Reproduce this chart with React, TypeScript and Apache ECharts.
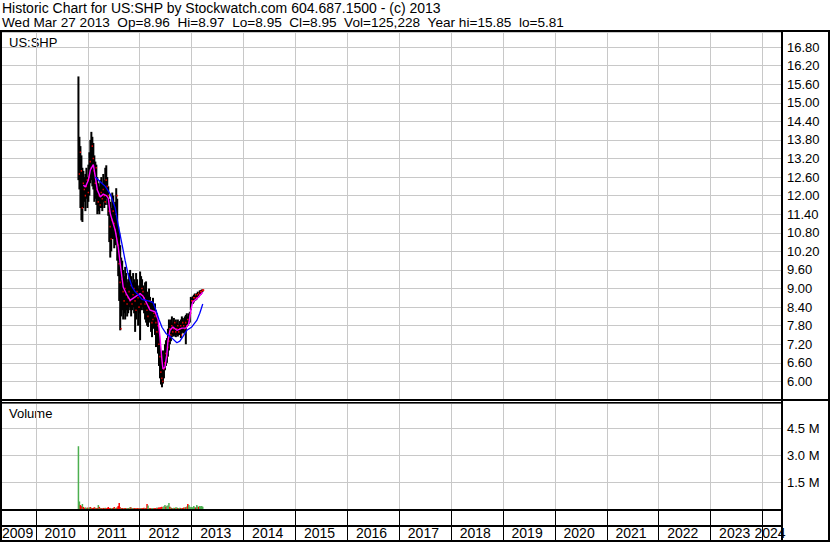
import React, { useEffect, useRef } from "react";
import * as echarts from "echarts";

const TITLE_LINE1 = "Historic Chart for US:SHP by Stockwatch.com 604.687.1500 - (c) 2013";
const TITLE_LINE2 =
  "Wed Mar 27 2013 \u00a0Op=8.96 \u00a0Hi=8.97 \u00a0Lo=8.95 \u00a0Cl=8.95 \u00a0Vol=125,228 \u00a0Year hi=15.85 \u00a0lo=5.81";
const SYMBOL_LABEL = "US:SHP";
const VOLUME_LABEL = "Volume";

// weekly bars, first week starting 2010-10-27
const FIRST_WEEK = [2010, 9, 27];

const high = [
  15.85, 13.9, 13.6, 13.3, 12.9, 12.8, 12.6, 12.7, 12.9, 12.6,
  13.0, 13.4, 13.8, 14.06, 13.9, 13.7, 13.3, 13.1, 13.0, 12.6,
  12.4, 12.3, 12.5, 12.6, 12.4, 12.7, 12.5, 12.9, 12.98, 12.6,
  12.3, 11.9, 11.8, 11.6, 12.1, 12.0, 11.7, 11.8, 12.24, 11.9,
  11.0, 10.8, 10.4, 10.0, 9.9, 9.6, 9.4, 9.7, 9.5, 9.2,
  9.3, 9.5, 9.6, 9.4, 9.2, 9.5, 9.3, 9.2, 9.5, 9.3,
  9.0, 9.1, 9.55, 9.4, 9.3, 9.1, 9.0, 9.2, 9.23, 8.9,
  8.8, 9.0, 8.73, 8.6, 8.5, 8.7, 8.5, 8.52, 8.3, 8.2,
  7.9, 7.55, 7.3, 6.9, 6.6, 7.0, 6.8, 7.2, 7.33, 7.4,
  7.7, 8.0, 7.9, 8.0, 8.1, 7.9, 8.05, 7.95, 8.0, 7.9,
  8.0, 7.85, 7.95, 8.0, 8.1, 8.05, 8.0, 8.1, 8.15, 8.2,
  8.1, 8.2, 8.25, 8.73, 8.7, 8.75, 8.8, 8.84, 8.8, 8.85,
  8.9, 8.88, 8.94, 8.95, 8.97, 8.97,
];
const low = [
  12.5, 12.2, 11.6, 11.2, 11.15, 11.6, 11.8, 11.5, 11.9, 11.6,
  11.8, 12.0, 12.4, 12.5, 12.3, 12.2, 11.8, 11.9, 11.7, 11.4,
  11.5, 11.4, 11.6, 11.6, 11.5, 11.8, 11.6, 11.7, 11.9, 11.7,
  11.35, 10.5, 10.0, 10.2, 10.6, 10.6, 10.3, 10.4, 10.8, 9.9,
  9.4, 8.6, 7.65, 8.1, 8.3, 8.0, 8.2, 8.0, 8.3, 8.1,
  8.2, 8.4, 8.3, 8.1, 8.3, 8.4, 8.2, 7.6, 8.0, 8.3,
  7.8, 8.2, 7.33, 8.3, 8.4, 8.3, 8.2, 8.0, 7.9, 7.8,
  7.76, 8.0, 7.9, 7.6, 7.43, 7.7, 7.8, 7.5, 7.11, 7.3,
  6.9, 6.5, 6.1, 5.9, 5.81, 5.93, 6.1, 6.36, 6.5, 6.6,
  6.8, 7.0, 7.2, 7.3, 7.43, 7.5, 7.45, 7.5, 7.43, 7.5,
  7.45, 7.5, 7.5, 7.4, 7.55, 7.6, 7.55, 7.6, 7.2, 7.76,
  7.8, 7.85, 7.9, 8.3, 8.5, 8.5, 8.55, 8.6, 8.62, 8.65,
  8.7, 8.72, 8.78, 8.8, 8.85, 8.9,
];
const close = [
  12.7, 13.4, 12.8, 11.6, 12.4, 12.2, 12.0, 12.3, 12.5, 12.1,
  12.6, 13.1, 12.9, 13.6, 13.2, 12.8, 12.4, 12.9, 12.2, 11.8,
  12.0, 11.7, 12.1, 11.9, 12.2, 12.0, 11.8, 12.5, 12.3, 12.0,
  11.5, 11.0, 10.6, 11.2, 11.5, 11.1, 10.9, 11.4, 12.0, 10.4,
  9.8, 9.2, 7.7, 9.3, 8.9, 8.6, 9.0, 8.8, 8.5, 8.7,
  8.9, 8.6, 9.1, 8.5, 8.8, 9.0, 8.6, 8.3, 8.9, 8.7,
  8.4, 8.8, 8.5, 9.0, 8.9, 8.7, 8.5, 8.6, 8.3, 8.1,
  8.4, 8.6, 8.3, 7.9, 8.0, 8.2, 8.1, 7.9, 7.6, 7.8,
  7.2, 6.8, 6.3, 6.1, 6.0, 6.4, 6.6, 6.9, 6.8, 7.1,
  7.3, 7.7, 7.5, 7.8, 7.6, 7.7, 7.9, 7.6, 7.7, 7.8,
  7.6, 7.7, 7.8, 7.5, 7.9, 7.8, 7.7, 7.9, 7.8, 8.0,
  7.9, 8.1, 8.2, 8.6, 8.6, 8.7, 8.7, 8.8, 8.7, 8.8,
  8.85, 8.8, 8.9, 8.9, 8.95, 8.95,
];
// weekly volume, thousands of shares
const volumeK = [
  3500, 420, 220, 160, 280, 110, 60, 90, 50, 80,
  60, 90, 110, 70, 50, 60, 100, 70, 40, 60,
  220, 120, 60, 50, 40, 60, 50, 70, 40, 60,
  110, 50, 60, 40, 50, 60, 110, 60, 70, 90,
  170, 330, 100, 60, 50, 40, 60, 50, 40, 60,
  50, 40, 110, 80, 50, 40, 60, 50, 40, 50,
  60, 40, 50, 60, 40, 50, 70, 60, 50, 280,
  200, 60, 50, 40, 60, 50, 40, 60, 50, 80,
  60, 100, 70, 110, 120, 90, 160, 220, 130, 180,
  200, 330, 120, 90, 60, 50, 70, 60, 100, 80,
  60, 50, 70, 60, 50, 60, 90, 80, 100, 140,
  280, 220, 120, 100, 110, 90, 170, 100, 80, 220,
  140, 120, 170, 150, 170, 125,
];
// short moving average (magenta), read at selected weeks
const magentaWeek = [5, 7, 10, 12, 15, 17, 19, 22, 25, 28, 30, 32, 35, 37, 40, 42, 45, 48, 52, 57, 62, 65, 69, 72, 77, 80, 82, 84, 85, 87, 89, 90, 92, 95, 99, 104, 108, 111, 113, 115, 120, 125];
const magentaVal = [12.34, 12.28, 12.5, 12.83, 13.0, 12.6, 12.18, 11.96, 12.05, 12.0, 11.92, 11.42, 11.1, 10.88, 10.34, 9.8, 9.05, 8.84, 8.62, 8.73, 8.84, 8.75, 8.5, 8.3, 8.25, 8.0, 7.43, 6.68, 6.4, 6.46, 6.9, 7.3, 7.65, 7.76, 7.65, 7.72, 7.72, 7.87, 8.3, 8.57, 8.7, 8.88];
// long moving average (blue)
const blueWeek = [17, 22, 27, 32, 37, 40, 44, 47, 50, 54, 57, 60, 64, 70, 75, 78, 81, 84, 88, 93, 99, 102, 105, 109, 114, 119, 122, 125];
const blueVal = [12.6, 12.45, 12.3, 12.05, 11.6, 11.05, 10.4, 9.9, 9.45, 9.05, 8.9, 8.8, 8.65, 8.6, 8.55, 8.3, 8.0, 7.75, 7.55, 7.43, 7.25, 7.3, 7.45, 7.65, 7.76, 7.97, 8.2, 8.5];

const GRID_YEARS = [2010, 2011, 2012, 2013, 2014, 2015, 2016, 2017, 2018, 2019, 2020, 2021, 2022, 2023, 2024];
const LABEL_YEARS = [2009, 2010, 2011, 2012, 2013, 2014, 2015, 2016, 2017, 2018, 2019, 2020, 2021, 2022, 2023, 2024];
const X_START = [2009, 3, 30];
const X_END = [2024, 4, 18];

const FONT = "Arial, 'Liberation Sans', sans-serif";
const GRID_GRAY = "#c8c8c8";

const DAY = 86400000;
const weekTime = (i: number) => Date.UTC(FIRST_WEEK[0], FIRST_WEEK[1], FIRST_WEEK[2]) + i * 7 * DAY;
const labelPos = (y: number) => {
  if (y === LABEL_YEARS[0]) return Date.UTC(y, 7, 25);
  if (y === LABEL_YEARS[LABEL_YEARS.length - 1]) return Date.UTC(y, 1, 24);
  return Date.UTC(y, 5, 20);
};

export default function App() {
  const ref = useRef<HTMLDivElement>(null);
  useEffect(() => {
    document.body.style.margin = "0";
    if (!ref.current) return;
    const chart = echarts.init(ref.current, undefined, { renderer: "svg" });

    const xMin = Date.UTC(X_START[0], X_START[1], X_START[2]);
    const xMax = Date.UTC(X_END[0], X_END[1], X_END[2]);
    const yearTicks = GRID_YEARS.map((y) => Date.UTC(y, 0, 1));

    const makeX = (gridIndex: number, lineColor: string, withLabels: boolean) => ({
      type: "value",
      gridIndex,
      min: xMin,
      max: xMax,
      axisLine: { show: false },
      axisTick: { show: false, customValues: yearTicks },
      splitLine: { show: true, lineStyle: { color: lineColor, width: 1 } },
      axisLabel: withLabels
        ? {
            show: true,
            inside: true,
            margin: 0,
            customValues: LABEL_YEARS.map(labelPos),
            formatter: (v: number) => String(new Date(v).getUTCFullYear()),
            color: "#000",
            fontSize: 14,
            fontFamily: FONT,
          }
        : { show: false },
    });

    const priceData = high.map((h, i) => [weekTime(i), h, low[i], close[i]]);
    const closeData = close.map((c, i) => [weekTime(i), c]);
    const volData = volumeK.map((v, i) => [weekTime(i), v * 1000, i === 0 || close[i] >= close[i - 1] ? 1 : 0]);

    const option: any = {
      animation: false,
      backgroundColor: "#fff",
      grid: [
        { left: 1, right: 48, top: 32, height: 368, containLabel: false, outerBoundsMode: "none" },
        { left: 1, right: 48, top: 403, height: 106, containLabel: false, outerBoundsMode: "none" },
        { left: 1, right: 48, top: 511, height: 14, containLabel: false, outerBoundsMode: "none" },
        { left: 1, right: 48, top: 527, height: 13, containLabel: false, outerBoundsMode: "none" },
      ],
      xAxis: [
        makeX(0, GRID_GRAY, false),
        makeX(1, GRID_GRAY, false),
        makeX(2, "#000", false),
        makeX(3, "#000", true),
      ],
      yAxis: [
        {
          type: "value",
          gridIndex: 0,
          position: "right",
          min: 5.4,
          max: 17.285,
          interval: 0.6,
          axisLine: { show: false },
          axisTick: { show: false },
          splitLine: { show: true, lineStyle: { color: GRID_GRAY, width: 1 } },
          axisLabel: {
            showMinLabel: false,
            showMaxLabel: false,
            margin: 5,
            formatter: (v: number) => v.toFixed(2),
            color: "#000",
            fontSize: 13,
            fontFamily: FONT,
          },
        },
        {
          type: "value",
          gridIndex: 1,
          position: "right",
          min: 0,
          max: 5910000,
          interval: 1500000,
          axisLine: { show: false },
          axisTick: { show: false },
          splitLine: { show: true, lineStyle: { color: GRID_GRAY, width: 1 } },
          axisLabel: {
            showMinLabel: false,
            showMaxLabel: false,
            margin: 5,
            formatter: (v: number) => (v / 1000000).toFixed(1) + " M",
            color: "#000",
            fontSize: 13,
            fontFamily: FONT,
          },
        },
        { type: "value", gridIndex: 2, show: false, min: 0, max: 1 },
        { type: "value", gridIndex: 3, show: false, min: 0, max: 1 },
      ],
      series: [
        {
          type: "custom",
          xAxisIndex: 0,
          yAxisIndex: 0,
          data: priceData,
          encode: { x: 0, y: [1, 2, 3] },
          z: 2,
          renderItem: (params: any, api: any) => {
            const t = api.value(0);
            const hi = api.coord([t, api.value(1)]);
            const lo = api.coord([t, api.value(2)]);
            return {
              type: "rect",
              shape: { x: hi[0] - 1, y: hi[1], width: 2, height: Math.max(1, lo[1] - hi[1]) },
              style: { fill: "#000" },
            };
          },
        },
        {
          type: "custom",
          xAxisIndex: 0,
          yAxisIndex: 0,
          data: closeData,
          encode: { x: 0, y: 1 },
          z: 3,
          renderItem: (params: any, api: any) => {
            const c = api.coord([api.value(0), api.value(1)]);
            return {
              type: "rect",
              shape: { x: c[0] + 0.3, y: c[1] - 0.8, width: 1.2, height: 1.6 },
              style: { fill: "#ff0000" },
            };
          },
        },
        {
          type: "line",
          xAxisIndex: 0,
          yAxisIndex: 0,
          data: magentaWeek.map((w, k) => [weekTime(w), magentaVal[k]]),
          showSymbol: false,
          lineStyle: { color: "#ff00ff", width: 1.4 },
          z: 5,
        },
        {
          type: "line",
          xAxisIndex: 0,
          yAxisIndex: 0,
          data: blueWeek.map((w, k) => [weekTime(w), blueVal[k]]),
          showSymbol: false,
          lineStyle: { color: "#0000ff", width: 1.3 },
          z: 5,
        },
        {
          type: "custom",
          xAxisIndex: 1,
          yAxisIndex: 1,
          data: volData,
          encode: { x: 0, y: 1 },
          renderItem: (params: any, api: any) => {
            const t = api.value(0);
            const top = api.coord([t, api.value(1)]);
            const base = api.coord([t, 0]);
            return {
              type: "rect",
              shape: { x: top[0] - 0.75, y: top[1], width: 1.5, height: Math.max(1, base[1] - top[1]) },
              style: { fill: api.value(2) ? "#4caf50" : "#ff0000" },
            };
          },
        },
      ],
      graphic: [
        { type: "text", left: 2, top: 1, style: { text: TITLE_LINE1, fontSize: 14, fontFamily: FONT, fill: "#000" } },
        { type: "text", left: 2, top: 15, style: { text: TITLE_LINE2, fontSize: 13.6, fontFamily: FONT, fill: "#000" } },
        { type: "text", left: 9, top: 36, style: { text: SYMBOL_LABEL, fontSize: 13, fontFamily: FONT, fill: "#000" } },
        { type: "text", left: 9, top: 407, style: { text: VOLUME_LABEL, fontSize: 13, fontFamily: FONT, fill: "#000" } },
        // frame
        { type: "rect", z: 100, shape: { x: 0, y: 30, width: 830, height: 2 }, style: { fill: "#000" } },
        { type: "rect", z: 100, shape: { x: 0, y: 30, width: 2, height: 512 }, style: { fill: "#000" } },
        { type: "rect", z: 100, shape: { x: 828, y: 30, width: 2, height: 512 }, style: { fill: "#000" } },
        { type: "rect", z: 100, shape: { x: 0, y: 540, width: 830, height: 2 }, style: { fill: "#000" } },
        { type: "rect", z: 100, shape: { x: 781, y: 30, width: 2, height: 512 }, style: { fill: "#000" } },
        { type: "rect", z: 100, shape: { x: 0, y: 399, width: 830, height: 2 }, style: { fill: "#000" } },
        { type: "rect", z: 100, shape: { x: 0, y: 402, width: 782, height: 1.5 }, style: { fill: "#000" } },
        { type: "rect", z: 100, shape: { x: 0, y: 509, width: 782, height: 2 }, style: { fill: "#000" } },
        { type: "rect", z: 100, shape: { x: 0, y: 525, width: 782, height: 2 }, style: { fill: "#000" } },
      ],
    };
    chart.setOption(option);
    return () => chart.dispose();
  }, []);
  return <div ref={ref} style={{ width: 830, height: 543 }} />;
}
